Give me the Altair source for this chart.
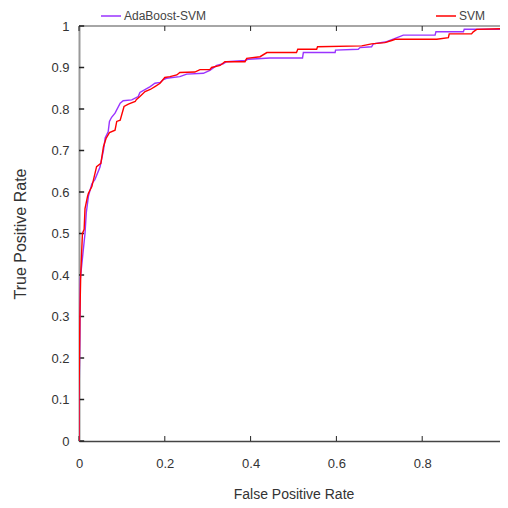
import altair as alt
import pandas as pd

# AdaBoost-SVM ROC curve
ada_fpr = [0, 0, 0.002, 0.003, 0.008, 0.012, 0.014, 0.017, 0.022, 0.030, 0.037, 0.049, 0.057, 0.061,
           0.068, 0.071, 0.076, 0.084, 0.096, 0.103, 0.123, 0.138, 0.142, 0.166, 0.177, 0.189, 0.197,
           0.204, 0.235, 0.251, 0.290, 0.305, 0.313, 0.321, 0.336, 0.344, 0.387, 0.395, 0.445, 0.521,
           0.523, 0.597, 0.598, 0.651, 0.655, 0.682, 0.686, 0.717, 0.737, 0.756, 0.830, 0.832, 0.896,
           0.898, 0.993, 0.995, 1.0]
ada_tpr = [0, 0.09, 0.25, 0.39, 0.44, 0.48, 0.50, 0.55, 0.59, 0.62, 0.63, 0.66, 0.70, 0.73,
           0.745, 0.77, 0.78, 0.79, 0.814, 0.82, 0.822, 0.83, 0.84, 0.854, 0.862, 0.864, 0.871,
           0.874, 0.878, 0.884, 0.886, 0.893, 0.899, 0.905, 0.909, 0.914, 0.917, 0.920, 0.923, 0.923,
           0.936, 0.936, 0.942, 0.944, 0.948, 0.950, 0.957, 0.962, 0.970, 0.978, 0.978, 0.986, 0.986,
           0.992, 0.992, 1.0, 1.0]

# SVM ROC curve
svm_fpr = [0, 0, 0.002, 0.004, 0.006, 0.008, 0.012, 0.014, 0.020, 0.022, 0.030, 0.041, 0.051, 0.057,
           0.063, 0.071, 0.084, 0.088, 0.096, 0.105, 0.115, 0.131, 0.134, 0.142, 0.154, 0.166, 0.177,
           0.189, 0.200, 0.212, 0.228, 0.235, 0.270, 0.282, 0.305, 0.309, 0.329, 0.340, 0.387, 0.391,
           0.422, 0.438, 0.507, 0.510, 0.554, 0.556, 0.659, 0.682, 0.713, 0.729, 0.737, 0.834, 0.861,
           0.863, 0.915, 0.919, 0.927, 0.997, 1.0]
svm_tpr = [0, 0.10, 0.30, 0.40, 0.45, 0.50, 0.51, 0.56, 0.59, 0.597, 0.613, 0.661, 0.669, 0.709,
           0.729, 0.743, 0.749, 0.770, 0.773, 0.806, 0.812, 0.818, 0.823, 0.830, 0.842, 0.847, 0.854,
           0.862, 0.876, 0.878, 0.882, 0.888, 0.889, 0.895, 0.895, 0.900, 0.905, 0.914, 0.914, 0.922,
           0.926, 0.936, 0.936, 0.944, 0.944, 0.950, 0.952, 0.957, 0.960, 0.965, 0.968, 0.968, 0.972,
           0.981, 0.981, 0.986, 0.992, 0.994, 1.0]

series_names = ["AdaBoost-SVM", "SVM"]
series_colors = ["#9a33ff", "#ff0000"]

x_ticks = [0, 0.2, 0.4, 0.6, 0.8, 1]
y_ticks = [0, 0.1, 0.2, 0.3, 0.4, 0.5, 0.6, 0.7, 0.8, 0.9, 1]

rows = []
for i, (a, b) in enumerate(zip(ada_fpr, ada_tpr)):
    rows.append({"fpr": a, "tpr": b, "model": series_names[0], "idx": i})
for i, (a, b) in enumerate(zip(svm_fpr, svm_tpr)):
    rows.append({"fpr": a, "tpr": b, "model": series_names[1], "idx": i})
df = pd.DataFrame(rows)

FONT = "Liberation Sans"
# the reference crops the plot at its right edge: the visible x range ends just before 1
XMAX = 421 / 429
xscale = alt.Scale(domain=[0, XMAX], nice=False, zero=False)
yscale = alt.Scale(domain=[0, 1], nice=False, zero=False)

lines = alt.Chart(df).mark_line(strokeWidth=1.4, clip=True).encode(
    x=alt.X("fpr:Q", scale=xscale, title="False Positive Rate",
            axis=alt.Axis(values=x_ticks, ticks=False, tickSize=0, grid=False, labelPadding=16,
                          domainColor="#444444", domainWidth=1.5, labelFontSize=13,
                          titleFontSize=14, titleFontWeight="normal", titlePadding=17,
                          labelColor="#333333", titleColor="#333333", labelFont=FONT, titleFont=FONT,
                          labelFlush=False, format="~g", titleX=214.5)),
    y=alt.Y("tpr:Q", scale=yscale, title="True Positive Rate",
            axis=alt.Axis(values=y_ticks, ticks=False, tickSize=0, grid=False, labelPadding=10,
                          domainColor="#999999", domainWidth=2, labelFontSize=13,
                          titleFontSize=16, titleFontWeight="normal", titlePadding=22,
                          labelColor="#333333", titleColor="#333333", labelFont=FONT, titleFont=FONT,
                          labelFlush=False, format="~g")),
    color=alt.Color("model:N", scale=alt.Scale(domain=series_names, range=series_colors),
                    legend=alt.Legend(title=None, orient="none", legendX=21, legendY=-21,
                                      direction="horizontal", columns=2, columnPadding=226,
                                      symbolType="stroke", symbolSize=400, symbolStrokeWidth=1.5,
                                      labelFontSize=12, labelFont=FONT, labelColor="#444444",
                                      labelOffset=2)),
    order="idx:Q",
)

xt = pd.DataFrame({"v": x_ticks})
yt = pd.DataFrame({"v": y_ticks})
tick_len_x = 0.012
tick_len_y = 0.012

bottom_ticks = alt.Chart(xt).transform_calculate(a="0", b=str(tick_len_y)).mark_rule(
    color="#222222", strokeWidth=1).encode(
    x=alt.X("v:Q", scale=xscale), y=alt.Y("a:Q", scale=yscale), y2="b:Q")
top_ticks = alt.Chart(xt).transform_calculate(a="1", b=str(1 - tick_len_y)).mark_rule(
    color="#222222", strokeWidth=1).encode(
    x=alt.X("v:Q", scale=xscale), y=alt.Y("a:Q", scale=yscale), y2="b:Q")
left_ticks = alt.Chart(yt).transform_calculate(a="0", b=str(tick_len_x)).mark_rule(
    color="#222222", strokeWidth=1.5).encode(
    y=alt.Y("v:Q", scale=yscale), x=alt.X("a:Q", scale=xscale), x2="b:Q")

top_border = alt.Chart(pd.DataFrame({"a": [0], "b": [XMAX], "c": [1]})).mark_rule(
    color="#888888", strokeWidth=1.5).encode(
    x=alt.X("a:Q", scale=xscale), x2="b:Q", y=alt.Y("c:Q", scale=yscale))

chart = alt.layer(top_border, bottom_ticks, top_ticks, left_ticks, lines).properties(
    width=421, height=415,
    autosize=alt.AutoSizeParams(type="none"),
    padding={"left": 71, "top": 18, "right": 0, "bottom": 59},
    background="white",
).configure_view(stroke=None)

chart.save("out.html", embed_options={"renderer": "svg", "actions": False})
